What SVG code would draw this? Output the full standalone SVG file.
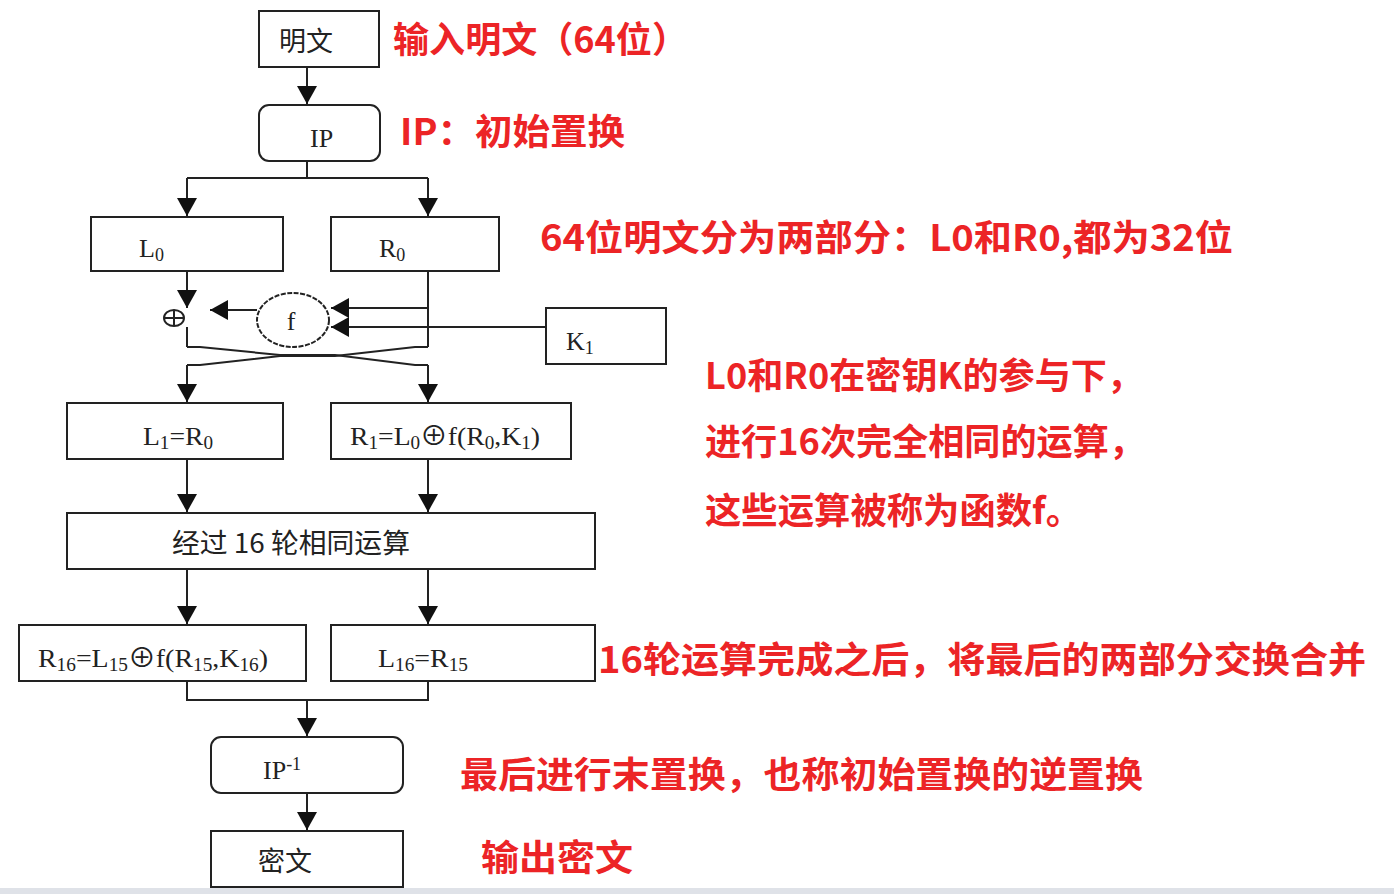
<svg xmlns="http://www.w3.org/2000/svg" width="1394" height="894" viewBox="0 0 1394 894">
<style>
.box{fill:#fff;stroke:#222;stroke-width:2}
.ln{fill:none;stroke:#222;stroke-width:2}
.t{font-family:"Liberation Serif","Noto Sans CJK SC",serif;font-size:26px;fill:#222}
.c{font-family:"Noto Sans CJK SC",sans-serif;font-size:27px;fill:#222}
.r{font-family:"Noto Sans CJK SC","Noto Sans",sans-serif;font-size:36px;font-weight:bold;fill:#ec2426}
.s{font-size:18px}
</style>
<defs>
<marker id="ah" viewBox="0 0 18 20" refX="18" refY="10" markerWidth="18" markerHeight="20" markerUnits="userSpaceOnUse" orient="auto">
<path d="M0,0 L18,10 L0,20 z" fill="#111"/>
</marker>
</defs>
<rect width="1394" height="894" fill="#fff"/>
<rect x="0" y="888" width="1394" height="6" fill="#dfe2e8"/>
<g id="connectors">
<path class="ln" d="M307,67 V104" marker-end="url(#ah)"/>
<path class="ln" d="M307,161 V178 M187,178 H428"/>
<path class="ln" d="M187,178 V216" marker-end="url(#ah)"/>
<path class="ln" d="M428,178 V216" marker-end="url(#ah)"/>
<path class="ln" d="M187,271 V308" marker-end="url(#ah)"/>
<path class="ln" d="M187,327 V347"/>
<path class="ln" d="M428,271 V347"/>
<path class="ln" d="M257,310 H210" marker-end="url(#ah)"/>
<path class="ln" d="M428,308 H331" marker-end="url(#ah)"/>
<path class="ln" d="M546,327 H331" marker-end="url(#ah)"/>
<path class="ln" d="M187,347 H200 L280,355 H335 L415,365 H428"/>
<path class="ln" d="M428,347 H415 L335,356 H280 L200,365 H187"/>
<path class="ln" d="M187,365 V402" marker-end="url(#ah)"/>
<path class="ln" d="M428,365 V402" marker-end="url(#ah)"/>
<path class="ln" d="M187,459 V512" marker-end="url(#ah)"/>
<path class="ln" d="M428,459 V512" marker-end="url(#ah)"/>
<path class="ln" d="M187,569 V624" marker-end="url(#ah)"/>
<path class="ln" d="M428,569 V624" marker-end="url(#ah)"/>
<path class="ln" d="M187,681 V700 H428 V681"/>
<path class="ln" d="M307,700 V736" marker-end="url(#ah)"/>
<path class="ln" d="M307,793 V830" marker-end="url(#ah)"/>
</g>
<g id="xor">
<ellipse class="ln" cx="174" cy="318" rx="10" ry="8"/>
<path class="ln" d="M164,318 H184 M174,310 V326"/>
</g>
<g id="plaintext">
<rect class="box" x="259" y="11" width="120" height="56"/>
<text class="c" x="279" y="51">明文</text>
</g>
<g id="ip">
<rect class="box" x="259" y="105" width="121" height="56" rx="10"/>
<text class="t" x="310" y="147">IP</text>
</g>
<g id="l0">
<rect class="box" x="91" y="217" width="192" height="54"/>
<text class="t" x="139" y="257">L<tspan class="s" dy="4">0</tspan></text>
</g>
<g id="r0">
<rect class="box" x="331" y="217" width="168" height="54"/>
<text class="t" x="379" y="257">R<tspan class="s" dy="4">0</tspan></text>
</g>
<g id="f">
<ellipse cx="293" cy="320" rx="36" ry="27" fill="#fff" stroke="#222" stroke-width="2" stroke-dasharray="5 1.5"/>
<text class="t" x="291" y="330" text-anchor="middle">f</text>
</g>
<g id="k1">
<rect class="box" x="546" y="308" width="120" height="56"/>
<text class="t" x="566" y="350">K<tspan class="s" dy="4">1</tspan></text>
</g>
<g id="l1">
<rect class="box" x="67" y="403" width="216" height="56"/>
<text class="t" x="143" y="445" textLength="70" lengthAdjust="spacingAndGlyphs">L<tspan class="s" dy="4">1</tspan><tspan dy="-4">=R</tspan><tspan class="s" dy="4">0</tspan></text>
</g>
<g id="r1">
<rect class="box" x="331" y="403" width="240" height="56"/>
<text class="t" x="350" y="445" textLength="190" lengthAdjust="spacingAndGlyphs">R<tspan class="s" dy="4">1</tspan><tspan dy="-4">=L</tspan><tspan class="s" dy="4">0</tspan><tspan dy="-4">⊕f(R</tspan><tspan class="s" dy="4">0</tspan><tspan dy="-4">,K</tspan><tspan class="s" dy="4">1</tspan><tspan dy="-4">)</tspan></text>
</g>
<g id="rounds">
<rect class="box" x="67" y="513" width="528" height="56"/>
<text class="c" x="172" y="553" textLength="238" lengthAdjust="spacingAndGlyphs">经过 16 轮相同运算</text>
</g>
<g id="r16">
<rect class="box" x="19" y="625" width="287" height="56"/>
<text class="t" x="38" y="667" textLength="230" lengthAdjust="spacingAndGlyphs">R<tspan class="s" dy="4">16</tspan><tspan dy="-4">=L</tspan><tspan class="s" dy="4">15</tspan><tspan dy="-4">⊕f(R</tspan><tspan class="s" dy="4">15</tspan><tspan dy="-4">,K</tspan><tspan class="s" dy="4">16</tspan><tspan dy="-4">)</tspan></text>
</g>
<g id="l16">
<rect class="box" x="331" y="625" width="264" height="56"/>
<text class="t" x="378" y="667" textLength="90" lengthAdjust="spacingAndGlyphs">L<tspan class="s" dy="4">16</tspan><tspan dy="-4">=R</tspan><tspan class="s" dy="4">15</tspan></text>
</g>
<g id="ipinv">
<rect class="box" x="211" y="737" width="192" height="56" rx="10"/>
<text class="t" x="263" y="779">IP<tspan class="s" dy="-9">-1</tspan></text>
</g>
<g id="ciphertext">
<rect class="box" x="211" y="831" width="192" height="56"/>
<text class="c" x="258" y="871">密文</text>
</g>
<g id="notes">
<text class="r" x="393" y="53" textLength="295" lengthAdjust="spacingAndGlyphs">输入明文（64位）</text>
<text class="r" x="400" y="145" textLength="225" lengthAdjust="spacingAndGlyphs">IP：初始置换</text>
<text class="r" x="540" y="251" textLength="693" lengthAdjust="spacingAndGlyphs">64位明文分为两部分：L0和R0,都为32位</text>
<text class="r" x="705" y="389" textLength="438" lengthAdjust="spacingAndGlyphs">L0和R0在密钥K的参与下，</text>
<text class="r" x="705" y="455" textLength="440" lengthAdjust="spacingAndGlyphs">进行16次完全相同的运算，</text>
<text class="r" x="705" y="524" textLength="377" lengthAdjust="spacingAndGlyphs">这些运算被称为函数f。</text>
<text class="r" x="598" y="673" textLength="768" lengthAdjust="spacingAndGlyphs">16轮运算完成之后，将最后的两部分交换合并</text>
<text class="r" x="460" y="788" textLength="683" lengthAdjust="spacingAndGlyphs">最后进行末置换，也称初始置换的逆置换</text>
<text class="r" x="481" y="871" textLength="152" lengthAdjust="spacingAndGlyphs">输出密文</text>
</g>
</svg>
